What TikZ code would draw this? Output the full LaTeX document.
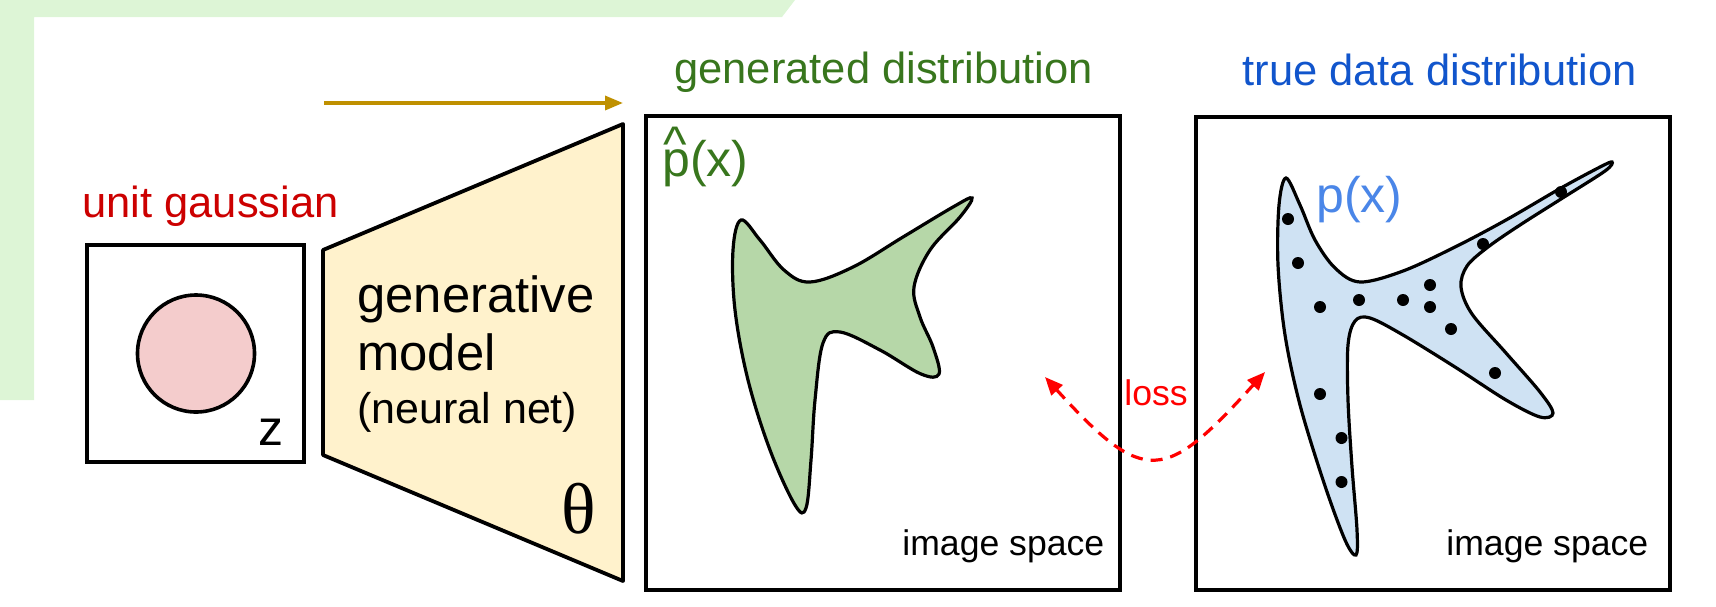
\documentclass[tikz,border=0pt]{standalone}
\usepackage{fontspec}
\setmainfont{Liberation Sans}
\newfontfamily\thetafont{Liberation Serif}
\usetikzlibrary{arrows.meta}
\definecolor{bggreen}{RGB}{221,245,214}
\definecolor{trapfill}{RGB}{255,242,204}
\definecolor{pinkfill}{RGB}{244,204,204}
\definecolor{greenfill}{RGB}{182,215,168}
\definecolor{bluefill}{RGB}{207,226,243}
\definecolor{titlered}{RGB}{204,0,0}
\definecolor{titlegreen}{RGB}{56,118,29}
\definecolor{titleblue}{RGB}{17,85,204}
\definecolor{pxblue}{RGB}{74,134,232}
\definecolor{gold}{RGB}{191,144,0}
\definecolor{lossred}{RGB}{255,0,0}
\tikzset{
  boxstyle/.style={draw=black, line width=1.9pt, fill=white, inner sep=0pt},
  blobline/.style={draw=black, line width=1.6pt},
  lbl/.style={inner sep=0pt, anchor=base west},
  bigfont/.style={font=\fontsize{21.75pt}{26pt}\selectfont},
  genfont/.style={font=\fontsize{25.4pt}{30pt}\selectfont},
  pxfont/.style={font=\fontsize{25pt}{30pt}\selectfont},
  smallfont/.style={font=\fontsize{17.8pt}{21pt}\selectfont},
  datadot/.style={fill=black, circle, inner sep=0pt, minimum size=6pt},
}
\begin{document}
\begin{tikzpicture}[x=0.5pt,y=-0.5pt]
\useasboundingbox (0,0) rectangle (1716,606);
% background band
\fill[bggreen] (0,0) -- (795,0) -- (782,17) -- (34,17) -- (34,400) -- (0,400) -- cycle;

% latent box
\node[boxstyle, minimum width=108.5pt, minimum height=108.5pt] (zbox) at (195.5,353.5) {};
\node[draw=black, line width=1.8pt, fill=pinkfill, circle, minimum size=58.5pt, inner sep=0pt] (gauss) at (196,353.5) {};
\node[lbl, font=\fontsize{25pt}{30pt}\selectfont] (zlbl) at (258,445) {z};
\node[lbl, bigfont, text=titlered] (unitg) at (82,217) {unit gaussian};

% generative model trapezoid
\draw[line width=1.9pt, fill=trapfill, line join=round] (323,250) -- (623,124) -- (623,581) -- (323,455) -- cycle;
\node[lbl, genfont] (gen1) at (357,312) {generative};
\node[lbl, genfont] (gen2) at (357,370) {model};
\node[lbl, font=\fontsize{21.5pt}{26pt}\selectfont] (gen3) at (357,423) {(neural net)};
\node[lbl, font=\fontsize{36pt}{40pt}\selectfont\thetafont] (theta) at (561,533) {θ};

% gold arrow
\coordinate (arrS) at (324,103);
\coordinate (arrE) at (623,103);
\draw[gold, line width=1.7pt, -{Triangle[length=9pt,width=7pt]}] (arrS) -- (arrE);

% generated distribution box
\node[lbl, bigfont, text=titlegreen] (gentitle) at (674,83) {generated distribution};
\node[boxstyle, minimum width=237pt, minimum height=237pt] (genbox) at (883,353) {};
\draw[blobline, fill=greenfill] plot[smooth cycle, tension=0.6] coordinates {
 (741,220) (760,240) (784,270) (810,282) (853,267) (903,237) (953,207) (972,198)
 (960,217) (930,250) (914,287) (920,317) (933,347) (939,374)
 (921,374) (880,350) (840,332) (823,343) (815,400) (811,460) (806,508)
 (795,505) (770,450) (748,380) (735,310) (733,250)};
\node[lbl, pxfont, text=titlegreen] (phat) at (662,176)
  {\rlap{\hspace{0.5pt}\raisebox{7.5pt}{\textasciicircum}}p(x)};
\node[lbl, smallfont] (imgs1) at (902,555) {image space};

% true data distribution box
\node[lbl, bigfont, text=titleblue] (truetitle) at (1242,85) {true data distribution};
\node[boxstyle, minimum width=237pt, minimum height=236.5pt] (truebox) at (1433,353.5) {};
\draw[blobline, fill=bluefill] plot[smooth cycle, tension=0.55] coordinates {
 (1286,178) (1300,205) (1315,240) (1335,268) (1360,282) (1403,271) (1455,247)
 (1506,220) (1561,188) (1600,167) (1612,162)
 (1605,171) (1561,199) (1520,225) (1488,247) (1467,266) (1461,287)
 (1472,314) (1506,353) (1540,392) (1553,413)
 (1540,417) (1506,400) (1455,367) (1403,335) (1370,318) (1355,321)
 (1348,345) (1348,400) (1352,467) (1357,530) (1356,555)
 (1345,540) (1324,483) (1300,405) (1285,335) (1278,265) (1279,205)};
\foreach \i/\p in {1/{(1288,219)},2/{(1298,263)},3/{(1320,307)},4/{(1359,300)},5/{(1403,300)},
  6/{(1430,285)},7/{(1430,307)},8/{(1451,329)},9/{(1483,244)},10/{(1561,192)},
  11/{(1495,373)},12/{(1320,394)},13/{(1341.5,438)},14/{(1341.5,482)}}
  \node[datadot] (dot\i) at \p {};
\node[lbl, pxfont, text=pxblue] (px) at (1316,212) {p(x)};
\node[lbl, smallfont] (imgs2) at (1446,555) {image space};

% loss arrow
\coordinate (lossL) at (1045,377);
\coordinate (lossR) at (1265,372);
\draw[lossred, line width=1.6pt, dash pattern=on 6pt off 4pt,
  {Triangle[length=9pt,width=7.5pt]}-{Triangle[length=9pt,width=7.5pt]}]
  (lossL) .. controls (1145,487) and (1165,482) .. (lossR);
\node[lbl, smallfont, text=lossred] (loss) at (1124,405) {loss};
\end{tikzpicture}
\end{document}
